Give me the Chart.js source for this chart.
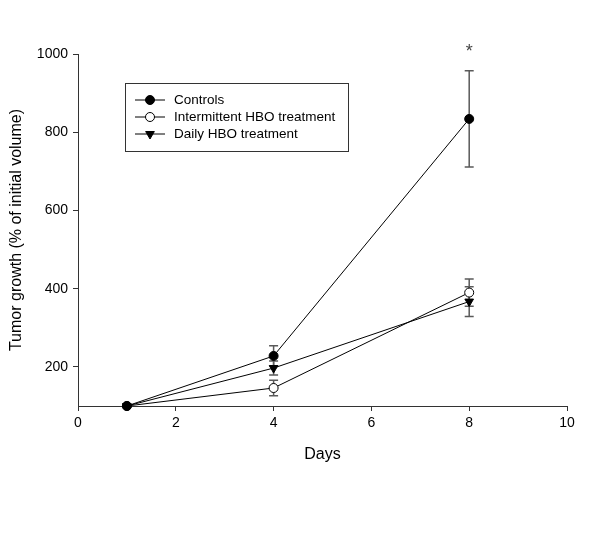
<!DOCTYPE html>
<html>
<head>
<meta charset="utf-8">
<script src="https://cdn.jsdelivr.net/npm/chart.js@4/dist/chart.umd.min.js"></script>
<style>
  body { margin: 0; background: #fff; }
  #wrap { width: 600px; height: 541px; }
</style>
</head>
<body>
<div id="wrap"><canvas id="chart" width="600" height="541"></canvas></div>
<script>
// data
var days = [1, 4, 8];
var controls = [100, 228, 834];
var controlsErr = [0, 26, 123];
var intermittent = [100, 146, 390];
var intermittentErr = [0, 20, 35];
var daily = [100, 197, 367];
var dailyErr = [0, 18, 38];
var xTicks = [0, 2, 4, 6, 8, 10];
var yTicks = [200, 400, 600, 800, 1000];
var sigMarks = [{ day: 8, label: '*' }];

var FONT = "'Liberation Sans', Arial, sans-serif";

function pts(ys) {
    return days.map(function (d, i) { return { x: d, y: ys[i] }; });
}

// error bars under the symbols
var errorBars = {
    id: 'errorBars',
    beforeDatasetsDraw: function (chart) {
        var ctx = chart.ctx;
        var xs = chart.scales.x, ys = chart.scales.y;
        ctx.save();
        ctx.strokeStyle = '#5a5a5a';
        ctx.lineWidth = 1.5;
        chart.data.datasets.forEach(function (ds) {
            ds.data.forEach(function (p, j) {
                var e = ds.errors[j];
                if (!e) return;
                var x = xs.getPixelForValue(p.x);
                var hi = ys.getPixelForValue(p.y + e);
                var lo = ys.getPixelForValue(p.y - e);
                ctx.beginPath();
                ctx.moveTo(x, hi); ctx.lineTo(x, lo);
                ctx.moveTo(x - 4.5, hi); ctx.lineTo(x + 4.5, hi);
                ctx.moveTo(x - 4.5, lo); ctx.lineTo(x + 4.5, lo);
                ctx.stroke();
            });
        });
        ctx.restore();
    },
    afterDraw: function (chart) {
        // significance mark above the controls bar
        var ctx = chart.ctx;
        var xs = chart.scales.x, ys = chart.scales.y;
        ctx.save();
        ctx.fillStyle = '#444';
        ctx.font = '18px ' + FONT;
        ctx.textAlign = 'center';
        ctx.textBaseline = 'alphabetic';
        sigMarks.forEach(function (m) {
            var j = days.indexOf(m.day);
            var top = ys.getPixelForValue(controls[j] + controlsErr[j]);
            ctx.fillText(m.label, xs.getPixelForValue(m.day), top - 14);
        });
        ctx.restore();
    }
};

// boxed legend inside the plot
var boxLegend = {
    id: 'boxLegend',
    afterDraw: function (chart) {
        var ctx = chart.ctx;
        var a = chart.chartArea;
        var bx = a.left + 47, by = a.top + 29, bw = 223, bh = 68;
        ctx.save();
        ctx.strokeStyle = '#333';
        ctx.lineWidth = 1;
        ctx.strokeRect(bx + 0.5, by + 0.5, bw, bh);
        ctx.font = '13.5px ' + FONT;
        ctx.textBaseline = 'middle';
        ctx.textAlign = 'left';
        chart.data.datasets.forEach(function (ds, i) {
            var y = by + 17 + i * 17;
            ctx.strokeStyle = '#000';
            ctx.beginPath();
            ctx.moveTo(bx + 10, y); ctx.lineTo(bx + 40, y);
            ctx.stroke();
            ctx.fillStyle = ds.pointBackgroundColor;
            ctx.strokeStyle = '#000';
            ctx.lineWidth = 1;
            Chart.helpers.drawPoint(ctx, {
                pointStyle: ds.pointStyle,
                radius: ds.pointRadius,
                rotation: ds.pointRotation || 0,
                borderWidth: 1
            }, bx + 25, y);
            ctx.fillStyle = '#000';
            ctx.fillText(ds.label, bx + 49, y);
        });
        ctx.restore();
    }
};

var ctx = document.getElementById('chart').getContext('2d');
new Chart(ctx, {
    type: 'line',
    data: {
        datasets: [{
            label: 'Controls',
            data: pts(controls),
            errors: controlsErr,
            borderColor: '#000',
            borderWidth: 1,
            pointStyle: 'circle',
            pointRadius: 4.5,
            pointBackgroundColor: '#000',
            pointBorderColor: '#000',
            pointBorderWidth: 1,
            clip: false
        }, {
            label: 'Intermittent HBO treatment',
            data: pts(intermittent),
            errors: intermittentErr,
            borderColor: '#000',
            borderWidth: 1,
            pointStyle: 'circle',
            pointRadius: 4.5,
            pointBackgroundColor: '#fff',
            pointBorderColor: '#000',
            pointBorderWidth: 1,
            clip: false
        }, {
            label: 'Daily HBO treatment',
            data: pts(daily),
            errors: dailyErr,
            borderColor: '#000',
            borderWidth: 1,
            pointStyle: 'triangle',
            pointRotation: 180,
            pointRadius: 5,
            pointBackgroundColor: '#000',
            pointBorderColor: '#000',
            pointBorderWidth: 1,
            clip: false
        }]
    },
    options: {
        responsive: false,
        animation: false,
        layout: {
            padding: { left: 0, top: 54, right: 33, bottom: 75 }
        },
        plugins: {
            legend: { display: false },
            tooltip: { enabled: false }
        },
        scales: {
            x: {
                type: 'linear',
                min: 0,
                max: 10,
                afterBuildTicks: function (s) { s.ticks = xTicks.map(function (v) { return { value: v }; }); },
                afterFit: function (s) { s.height = 60; },
                grid: { drawOnChartArea: false, drawTicks: true, tickLength: 5, color: '#333' },
                border: { display: true, color: '#333', width: 1 },
                ticks: {
                    color: '#000', padding: 4, font: { family: FONT, size: 14 },
                    callback: function (v) { return String(v); }
                },
                title: {
                    display: true,
                    text: 'Days',
                    color: '#000',
                    font: { family: FONT, size: 16 },
                    padding: { top: 0, bottom: 2 }
                }
            },
            y: {
                type: 'linear',
                min: 100,
                max: 1000,
                afterBuildTicks: function (s) { s.ticks = yTicks.map(function (v) { return { value: v }; }); },
                afterFit: function (s) { s.width = 78; },
                grid: { drawOnChartArea: false, drawTicks: true, tickLength: 5, color: '#333' },
                border: { display: true, color: '#333', width: 1 },
                ticks: {
                    color: '#000', padding: 5, font: { family: FONT, size: 14 },
                    callback: function (v) { return String(v); }
                },
                title: {
                    display: true,
                    text: 'Tumor growth (% of initial volume)',
                    color: '#000',
                    font: { family: FONT, size: 16 },
                    padding: { top: 7, bottom: 0 }
                }
            }
        }
    },
    plugins: [errorBars, boxLegend]
});
</script>
</body>
</html>
